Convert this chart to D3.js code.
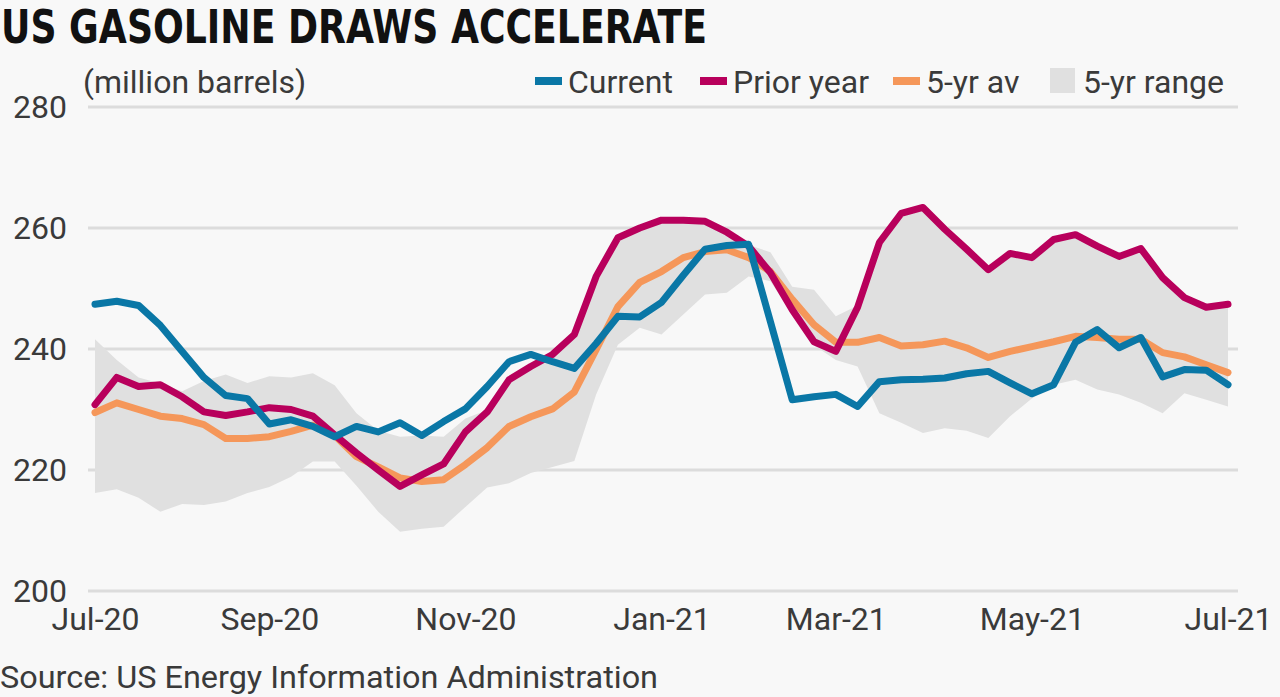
<!DOCTYPE html>
<html lang="en">
<head>
<meta charset="UTF-8">
<title>US gasoline draws accelerate</title>
<script src="https://cdn.jsdelivr.net/npm/d3@7"></script>
<style>
    html, body { margin: 0; padding: 0; background: #f8f8f8; }
    text { font-family: Roboto, "Noto Sans", sans-serif; fill: #3a3a3a; }
</style>
</head>
<body>
<div id="chart"></div>
<script>
// weekly stocks, Jul-20 .. Jul-21 (million barrels)
const current = [247.4, 247.9, 247.2, 243.9, 239.6, 235.3, 232.3, 231.8, 227.6, 228.3,
    227.2, 225.5, 227.2, 226.3, 227.8, 225.7, 228.0, 230.1, 233.8, 237.9,
    239.1, 237.9, 236.8, 240.9, 245.4, 245.3, 247.7, 252.2, 256.5, 257.1,
    257.3, 244.5, 231.6, 232.1, 232.5, 230.5, 234.6, 234.9, 235.0, 235.2,
    235.9, 236.3, 234.4, 232.6, 234.1, 241.1, 243.2, 240.2, 241.9, 235.4,
    236.6, 236.5, 234.1];
const priorYear = [230.8, 235.3, 233.8, 234.1, 232.1, 229.6, 229.0, 229.6, 230.3, 230.0,
    228.9, 225.8, 222.8, 220.0, 217.3, 219.2, 221.0, 226.3, 229.6, 234.9,
    237.1, 239.1, 242.4, 252.0, 258.4, 260.0, 261.3, 261.3, 261.1, 259.3,
    257.0, 252.6, 246.5, 241.2, 239.6, 246.9, 257.6, 262.4, 263.4, 259.8,
    256.5, 253.1, 255.8, 255.1, 258.1, 258.9, 257.0, 255.3, 256.6, 251.8,
    248.5, 246.9, 247.4];
const avg5 = [229.5, 231.1, 230.0, 228.9, 228.5, 227.5, 225.2, 225.2, 225.5, 226.4,
    227.4, 225.7, 222.2, 220.5, 218.7, 218.1, 218.4, 220.9, 223.7, 227.2,
    228.8, 230.1, 232.9, 239.9, 247.0, 251.0, 252.8, 255.1, 256.1, 256.4,
    255.1, 252.8, 248.2, 244.0, 241.1, 241.1, 241.9, 240.5, 240.7, 241.3,
    240.2, 238.6, 239.6, 240.4, 241.2, 242.1, 241.9, 241.6, 241.6, 239.4,
    238.7, 237.4, 236.1];
const rangeMax = [241.6, 238.2, 235.3, 234.3, 233.0, 234.7, 235.8, 234.4, 235.5, 235.3,
    236.0, 234.0, 229.4, 226.5, 225.5, 225.7, 225.5, 228.5, 229.9, 235.2,
    237.4, 239.4, 242.6, 252.3, 258.6, 260.2, 261.5, 261.5, 261.3, 259.5,
    257.2, 256.0, 250.3, 249.8, 245.4, 247.2, 257.6, 262.4, 263.4, 259.8,
    256.5, 253.1, 255.8, 255.1, 258.1, 258.9, 257.0, 255.3, 256.6, 251.8,
    248.5, 246.9, 247.4];
const rangeMin = [216.2, 216.8, 215.4, 213.1, 214.4, 214.2, 214.8, 216.2, 217.2, 218.9,
    221.4, 221.4, 217.4, 213.1, 209.8, 210.3, 210.6, 213.9, 217.1, 217.8,
    219.5, 220.5, 221.5, 232.5, 240.7, 243.5, 242.4, 245.7, 249.0, 249.3,
    252.0, 251.2, 245.7, 240.6, 238.2, 237.1, 229.4, 227.8, 226.1, 226.9,
    226.5, 225.3, 228.9, 231.8, 234.1, 234.9, 233.3, 232.5, 231.1, 229.4,
    232.7, 231.6, 230.5];

// x ticks sit on these week numbers
const xTickWeeks = [0, 8, 17, 26, 34, 43, 52];
const xTickLabels = ["Jul-20", "Sep-20", "Nov-20", "Jan-21", "Mar-21", "May-21", "Jul-21"];
const yTicks = [200, 220, 240, 260, 280];

const legendNames = ["Current", "Prior year", "5-yr av", "5-yr range"];
const colors = { current: "#0a77a6", prior: "#b8005c", avg: "#f5975a", range: "#e0e0e0" };

const W = 1280, H = 697;
const weeks = d3.range(current.length);

const svg = d3.select("#chart").append("svg")
    .attr("width", W).attr("height", H);

svg.append("rect").attr("width", W).attr("height", H).attr("fill", "#f8f8f8");

const x = d3.scalePoint(weeks, [95, 1228]);
const y = d3.scaleLinear([200, 280], [591, 107]);

// title
svg.append("text")
    .attr("x", 1).attr("y", 43)
    .attr("textLength", 706).attr("lengthAdjust", "spacingAndGlyphs")
    .style("font-family", "'Liberation Sans Narrow', 'DejaVu Sans Condensed', Roboto, sans-serif")
    .style("font-weight", "bold").style("font-size", "46px").style("fill", "#111")
    .text("US GASOLINE DRAWS ACCELERATE");

// gridlines
svg.append("g")
    .selectAll("line")
    .data(yTicks)
    .join("line")
    .attr("x1", 88).attr("x2", 1238)
    .attr("y1", d => y(d)).attr("y2", d => y(d))
    .attr("stroke", "#dcdcdc").attr("stroke-width", 3);

// y axis labels
svg.append("g")
    .attr("transform", "translate(67,0)")
    .call(d3.axisLeft(y).tickValues(yTicks).tickSize(0).tickPadding(0))
    .call(g => g.select(".domain").remove())
    .call(g => g.selectAll("text")
        .style("font-size", "32px").style("fill", "#3a3a3a")
        .style("font-family", "Roboto, sans-serif"));

// x axis labels
svg.append("g")
    .attr("transform", "translate(0,607)")
    .call(d3.axisBottom(x).tickValues(xTickWeeks).tickSize(0).tickPadding(0)
        .tickFormat((d, i) => xTickLabels[i]))
    .call(g => g.select(".domain").remove())
    .call(g => g.selectAll("text")
        .attr("dy", "0.71em")
        .style("font-size", "32px").style("fill", "#3a3a3a")
        .style("font-family", "Roboto, sans-serif"));

svg.append("text")
    .attr("x", 83).attr("y", 93)
    .style("font-size", "32px")
    .text("(million barrels)");

// 5-yr range band
const band = d3.area()
    .x((d, i) => x(i))
    .y0((d, i) => y(rangeMin[i]))
    .y1((d, i) => y(rangeMax[i]));

svg.append("path")
    .datum(weeks)
    .attr("d", band)
    .attr("fill", colors.range);

const line = d3.line().x((d, i) => x(i)).y(d => y(d));

[[avg5, colors.avg], [priorYear, colors.prior], [current, colors.current]].forEach(([s, c]) => {
    svg.append("path")
        .datum(s)
        .attr("d", line)
        .attr("fill", "none")
        .attr("stroke", c)
        .attr("stroke-width", 7)
        .attr("stroke-linejoin", "round")
        .attr("stroke-linecap", "round");
});

// legend
const legendX = [535, 700, 893, 1050];
const legendColors = [colors.current, colors.prior, colors.avg, colors.range];
const lg = svg.append("g").selectAll("g")
    .data(legendNames)
    .join("g")
    .attr("transform", (d, i) => `translate(${legendX[i]},81)`);

lg.append("rect")
    .attr("x", 0)
    .attr("y", (d, i) => i === 3 ? -13 : -4)
    .attr("width", (d, i) => i === 3 ? 25 : 27)
    .attr("height", (d, i) => i === 3 ? 25 : 8)
    .attr("fill", (d, i) => legendColors[i]);

lg.append("text")
    .attr("x", 33)
    .attr("y", 12)
    .style("font-size", "32px")
    .text(d => d);

svg.append("text")
    .attr("x", 0).attr("y", 688)
    .attr("textLength", 658).attr("lengthAdjust", "spacingAndGlyphs")
    .style("font-size", "31px")
    .text("Source: US Energy Information Administration");
</script>
</body>
</html>
